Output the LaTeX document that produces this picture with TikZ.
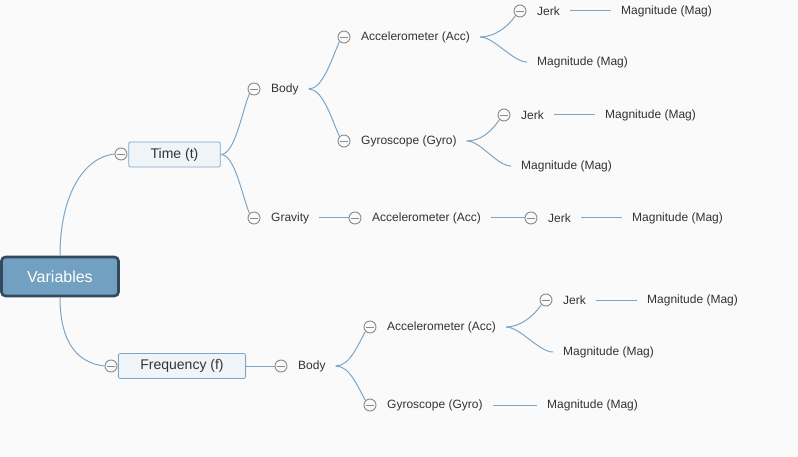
\documentclass[tikz,border=0pt]{standalone}
\usepackage{fontspec}
\setmainfont{Liberation Sans}
\usepackage{xcolor}
\usepackage{tikz}
\definecolor{cbg}{HTML}{FAFAFA}
\definecolor{clink}{HTML}{7BA6C8}
\definecolor{croot}{HTML}{72A0C1}
\definecolor{cdark}{HTML}{34495E}
\definecolor{cpale}{HTML}{EEF4F8}
\definecolor{ctxt}{HTML}{333333}
\definecolor{ctog}{HTML}{8A8A8A}
\tikzset{rootbox/.style={draw=cdark,fill=croot,line width=2.6pt,rounded corners=4pt,minimum width=117pt,minimum height=39pt,text=white,font=\fontsize{16}{19}\selectfont},
  topic/.style={draw=clink,fill=cpale,line width=0.8pt,rounded corners=2pt,inner xsep=22pt,minimum height=25pt,text=ctxt,font=\fontsize{14}{17}\selectfont},
  item/.style={anchor=west,inner xsep=10pt,inner ysep=3pt,text=ctxt,font=\fontsize{12}{14}\selectfont},
  tog/.style={circle,draw=ctog,fill=cbg,line width=0.9pt,minimum size=12pt,inner sep=0pt,
    path picture={\draw[ctog,line width=0.9pt] ([xshift=-4.2pt]path picture bounding box.center) -- ([xshift=4.2pt]path picture bounding box.center);}},
  lnk/.style={clink,line width=1.0pt}}

\begin{document}
\begin{tikzpicture}[x=1pt,y=-1pt]
\useasboundingbox[fill=cbg] (0,0) rectangle (798,457);

% ===== root and the two main topics =====
\node[rootbox] (var) at (60,276.5) {Variables};
\node[topic] (time) at (174.5,154.5) {Time (t)};
\node[topic] (freq) at (182,366) {Frequency (f)};
\node[tog] (time-c) at (121,154) {};
\node[tog] (freq-c) at (111,366) {};
\draw[lnk] (var.north) .. controls +(0,-62) and +(-30,3) .. (time-c.west);
\draw[lnk] (var.south) .. controls +(0,44) and +(-28,-3) .. (freq-c.west);

% ===== Time (t) branch =====
\node[tog] (tb-c) at (254,89) {};     \node[item] (tb) at (261,89) {Body};
\node[tog] (tg-c) at (254,218) {};    \node[item] (tg) at (261,218) {Gravity};
\draw[lnk] (time.east) .. controls +(14,0) and +(-8,20) .. (tb-c.south west);
\draw[lnk] (time.east) .. controls +(14,0) and +(-8,-20) .. (tg-c.north west);

\node[tog] (tba-c) at (344,37) {};    \node[item] (tba) at (351,37) {Accelerometer (Acc)};
\node[tog] (tbg-c) at (344,141) {};   \node[item] (tbg) at (351,141) {Gyroscope (Gyro)};
\draw[lnk] (tb.east) .. controls +(14,0) and +(-8,18) .. (tba-c.south west);
\draw[lnk] (tb.east) .. controls +(14,0) and +(-8,-18) .. (tbg-c.north west);

\node[tog] (tbaj-c) at (520,11) {};   \node[item] (tbaj) at (527,11) {Jerk};
\node[item] (tbajm) at (611,11) {Magnitude (Mag)};
\node[item] (tbam) at (527,62) {Magnitude (Mag)};
\draw[lnk] (tba.east) .. controls +(14,0) and +(-8,12) .. (tbaj-c.south west);
\draw[lnk] (tba.east) .. controls +(14,0) and +(-14,0) .. (tbam.west);
\draw[lnk] (tbaj.east) -- (tbajm.west);

\node[tog] (tbgj-c) at (504,115) {};  \node[item] (tbgj) at (511,115) {Jerk};
\node[item] (tbgjm) at (595,115) {Magnitude (Mag)};
\node[item] (tbgm) at (511,166) {Magnitude (Mag)};
\draw[lnk] (tbg.east) .. controls +(14,0) and +(-8,12) .. (tbgj-c.south west);
\draw[lnk] (tbg.east) .. controls +(14,0) and +(-14,0) .. (tbgm.west);
\draw[lnk] (tbgj.east) -- (tbgjm.west);

\node[tog] (tga-c) at (355,218) {};   \node[item] (tga) at (362,218) {Accelerometer (Acc)};
\node[tog] (tgaj-c) at (531,218) {};  \node[item] (tgaj) at (538,218) {Jerk};
\node[item] (tgajm) at (622,218) {Magnitude (Mag)};
\draw[lnk] (tg.east) -- (tga-c.west);
\draw[lnk] (tga.east) -- (tgaj-c.west);
\draw[lnk] (tgaj.east) -- (tgajm.west);

% ===== Frequency (f) branch =====
\node[tog] (fb-c) at (281,366) {};    \node[item] (fb) at (288,366) {Body};
\draw[lnk] (freq.east) -- (fb-c.west);

\node[tog] (fba-c) at (370,327) {};   \node[item] (fba) at (377,327) {Accelerometer (Acc)};
\node[tog] (fbg-c) at (370,405) {};   \node[item] (fbg) at (377,405) {Gyroscope (Gyro)};
\draw[lnk] (fb.east) .. controls +(14,0) and +(-8,14) .. (fba-c.south west);
\draw[lnk] (fb.east) .. controls +(14,0) and +(-8,-14) .. (fbg-c.north west);

\node[tog] (fbaj-c) at (546,300) {};  \node[item] (fbaj) at (553,300) {Jerk};
\node[item] (fbajm) at (637,300) {Magnitude (Mag)};
\node[item] (fbam) at (553,352) {Magnitude (Mag)};
\draw[lnk] (fba.east) .. controls +(14,0) and +(-8,12) .. (fbaj-c.south west);
\draw[lnk] (fba.east) .. controls +(14,0) and +(-14,0) .. (fbam.west);
\draw[lnk] (fbaj.east) -- (fbajm.west);

\node[item] (fbgm) at (537,405) {Magnitude (Mag)};
\draw[lnk] (fbg.east) -- (fbgm.west);

\end{tikzpicture}
\end{document}
